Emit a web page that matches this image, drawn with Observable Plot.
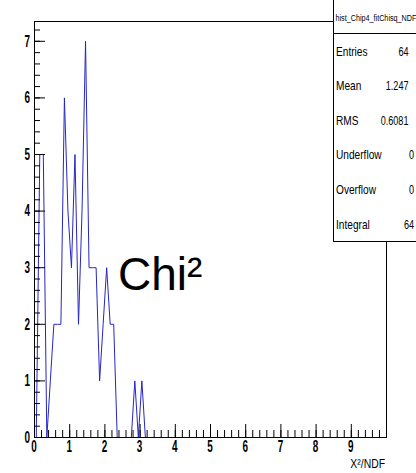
<!DOCTYPE html>
<html>
<head>
<meta charset="utf-8">
<script src="https://cdn.jsdelivr.net/npm/d3@7"></script>
<script src="https://cdn.jsdelivr.net/npm/@observablehq/plot@0.6"></script>
<style>
  html, body { margin: 0; padding: 0; background: #fff; }
  #chart { width: 416px; height: 473px; overflow: hidden; }
</style>
</head>
<body>
<div id="chart"></div>
<script>
// hist_Chip4_fitChisq_NDF : chi2/NDF of the fits, 100 bins of width 0.1 on [0, 10]
const binWidth = 0.1;
const counts = [
  0, 5, 5, 0, 1, 2, 2, 2, 6, 4,
  3, 5, 2, 4, 7, 3, 3, 3, 1, 2,
  3, 2, 2, 0, 0, 0, 0, 0, 1, 0,
  1, 0, 0, 0, 0, 0, 0, 0, 0, 0,
  0, 0, 0, 0, 0, 0, 0, 0, 0, 0,
  0, 0, 0, 0, 0, 0, 0, 0, 0, 0,
  0, 0, 0, 0, 0, 0, 0, 0, 0, 0,
  0, 0, 0, 0, 0, 0, 0, 0, 0, 0,
  0, 0, 0, 0, 0, 0, 0, 0, 0, 0,
  0, 0, 0, 0, 0, 0, 0, 0, 0, 0
];

// statistics box
const histName = "hist_Chip4_fitChisq_NDF";
const statLabels = ["Entries", "Mean", "RMS", "Underflow", "Overflow", "Integral"];
const statValues = ["64", "1.247", "0.6081", "0", "0", "64"];

// axes
const xTickLabels = [0, 1, 2, 3, 4, 5, 6, 7, 8, 9];
const yTickLabels = [0, 1, 2, 3, 4, 5, 6, 7];
const xTitle = "X\u00b2/NDF";
const padText = "Chi\u00b2";

const W = 416, H = 473;
const M = {top: 21, right: 30, bottom: 36, left: 34};
const innerW = W - M.left - M.right;
const innerH = H - M.top - M.bottom;
const xMax = 10, yMax = 7.35;

const bins = counts.map((c, i) => ({center: (i + 0.5) * binWidth, count: c}));
const xMajor = d3.range(0, xMax + 1e-9, 1);
const xMinor = d3.range(0, xMax + 1e-9, 0.2);
const yMajor = d3.range(0, 7 + 1e-9, 1);
const yMinor = d3.range(0, yMax, 0.2);

const font = "'Liberation Sans', Arial, Helvetica, sans-serif";
const lineColor = "#2626c4";

const svg = Plot.plot({
  width: W,
  height: H,
  marginTop: M.top, marginRight: M.right, marginBottom: M.bottom, marginLeft: M.left,
  style: {background: "white", fontFamily: font, color: "black"},
  x: {domain: [0, xMax], axis: null},
  y: {domain: [0, yMax], axis: null},
  marks: [
    Plot.line(bins, {x: "center", y: "count", stroke: lineColor, strokeWidth: 1}),
    Plot.tickX(xMinor, {x: d => d, insetTop: innerH - 7, stroke: "black"}),
    Plot.tickX(xMajor, {x: d => d, insetTop: innerH - 13, stroke: "black"}),
    Plot.tickY(yMinor, {y: d => d, insetRight: innerW - 6, stroke: "black"}),
    Plot.tickY(yMajor, {y: d => d, insetRight: innerW - 11, stroke: "black"}),
    Plot.frame({stroke: "black"})
  ]
});

const xs = svg.scale("x"), ys = svg.scale("y");
const root = d3.select(svg);

// text helper: narrow ROOT-style glyphs, squeezed about the anchor point
function label(parent, txt, x, y, {size = 13, anchor = "start", squeeze = 1, weight = "normal"} = {}) {
  return parent.append("text")
    .attr("transform", `translate(${x},${y}) scale(${squeeze},1)`)
    .attr("text-anchor", anchor)
    .attr("font-family", font)
    .attr("font-size", size)
    .attr("font-weight", weight)
    .attr("fill", "black")
    .text(txt);
}

// tick labels
const axisG = root.append("g");
const plotBottom = H - M.bottom;
xTickLabels.forEach(d => label(axisG, String(d), xs.apply(d), plotBottom + 14.5, {size: 16, anchor: "middle", squeeze: 0.62, weight: "bold"}));
yTickLabels.forEach(d => label(axisG, String(d), M.left - 4, ys.apply(d) + 5.7, {size: 16, anchor: "end", squeeze: 0.62, weight: "bold"}));

// x-axis title
label(root, xTitle, 385, 468, {size: 13, anchor: "end", squeeze: 0.8});

// pad label
label(root, padText, 118, 290, {size: 46});

// statistics box
const box = root.append("g");
const bx = 333.5, by = -1, bw = 100, bh = 242.5;
box.append("rect")
  .attr("x", bx).attr("y", by).attr("width", bw).attr("height", bh)
  .attr("fill", "white").attr("stroke", "black");
box.append("line")
  .attr("x1", bx).attr("x2", bx + bw).attr("y1", 33.5).attr("y2", 33.5)
  .attr("stroke", "black");
label(box, histName, 335.5, 21, {size: 9.5, squeeze: 0.76});

const rowY0 = 55.5, rowStep = 34.6;
statLabels.forEach((name, i) => {
  const y = rowY0 + i * rowStep;
  label(box, name, 336, y, {size: 13, squeeze: 0.78});
  label(box, statValues[i], i < 3 ? 408.5 : 414, y, {size: 13, anchor: "end", squeeze: 0.7});
});

document.getElementById("chart").appendChild(svg);
</script>
</body>
</html>
